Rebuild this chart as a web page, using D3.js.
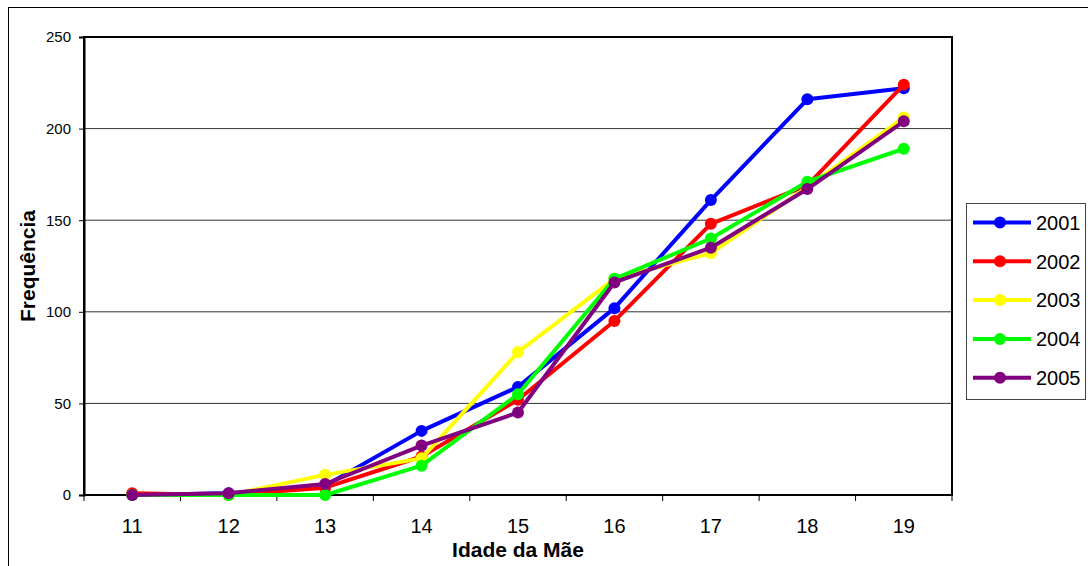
<!DOCTYPE html>
<html>
<head>
<meta charset="utf-8">
<script src="https://cdn.jsdelivr.net/npm/d3@7"></script>
<style>
  body { margin: 0; background: #fff; }
  text { font-family: "Liberation Sans", Arial, sans-serif; }
</style>
</head>
<body>
<div id="chart"></div>
<script>
// Idade da mãe (categorias do eixo x)
var idades = ["11", "12", "13", "14", "15", "16", "17", "18", "19"];

// Frequências por ano
var anos = ["2001", "2002", "2003", "2004", "2005"];
var freq2001 = [0, 1, 5, 35, 59, 102, 161, 216, 222];
var freq2002 = [1, 0, 4, 21, 52, 95, 148, 169, 224];
var freq2003 = [0, 0, 11, 20, 78, 118, 132, 168, 206];
var freq2004 = [0, 0, 0, 16, 55, 118, 140, 171, 189];
var freq2005 = [0, 1, 6, 27, 45, 116, 135, 167, 204];
var cores = ["#0000ff", "#ff0000", "#ffff00", "#00ff00", "#800080"];
var yTicks = [0, 50, 100, 150, 200, 250];

var series = [freq2001, freq2002, freq2003, freq2004, freq2005].map(function(v, i) {
    return { ano: anos[i], cor: cores[i], valores: v };
});

var W = 1088, H = 566;
var margin = { left: 84, top: 37, right: 136, bottom: 71 };
var width = W - margin.left - margin.right,
    height = H - margin.top - margin.bottom;

var svg = d3.select("#chart").append("svg")
    .attr("width", W)
    .attr("height", H);

// moldura externa
svg.append("rect")
    .attr("x", 8.5).attr("y", 7.5)
    .attr("width", W + 10).attr("height", H + 10)
    .attr("fill", "none")
    .attr("stroke", "#000")
    .attr("stroke-width", 1);

var g = svg.append("g")
    .attr("transform", "translate(" + margin.left + "," + margin.top + ")");

var xScale = d3.scaleBand().domain(idades).range([0, width]);
var yScale = d3.scaleLinear().domain([0, 250]).range([height, 0]);

// linhas de grade
g.selectAll("line.grid")
    .data(yTicks.filter(d => d > 0 && d < 250))
    .enter()
    .append("line")
    .attr("class", "grid")
    .attr("x1", 0).attr("x2", width)
    .attr("y1", d => yScale(d)).attr("y2", d => yScale(d))
    .attr("stroke", "#333")
    .attr("stroke-width", 1);

// borda da área do gráfico
g.append("rect")
    .attr("x", 0).attr("y", 0)
    .attr("width", width).attr("height", height)
    .attr("fill", "none")
    .attr("stroke", "#000")
    .attr("stroke-width", 2);

// eixo y
var yAxis = g.append("g")
    .call(d3.axisLeft(yScale).tickValues(yTicks).tickSize(5).tickPadding(8));
yAxis.select(".domain").attr("stroke-width", 2);
yAxis.selectAll("text").style("font-size", "15px").attr("fill", "#000");

// eixo x com marcas entre categorias
var xAxis = g.append("g")
    .attr("transform", "translate(0," + height + ")");
xAxis.append("line")
    .attr("x1", 0).attr("x2", width)
    .attr("stroke", "#000").attr("stroke-width", 2);
xAxis.selectAll("line.tick")
    .data(d3.range(idades.length + 1))
    .enter()
    .append("line")
    .attr("class", "tick")
    .attr("x1", i => i * xScale.step()).attr("x2", i => i * xScale.step())
    .attr("y1", 0).attr("y2", 6)
    .attr("stroke", "#000");
xAxis.selectAll("text")
    .data(idades)
    .enter()
    .append("text")
    .attr("x", d => xScale(d) + xScale.bandwidth() / 2)
    .attr("y", 38)
    .attr("text-anchor", "middle")
    .style("font-size", "20px")
    .text(d => d);

// títulos dos eixos
svg.append("text")
    .attr("x", margin.left + width / 2)
    .attr("y", 557)
    .attr("text-anchor", "middle")
    .style("font-size", "21px")
    .style("font-weight", "bold")
    .text("Idade da Mãe");

svg.append("text")
    .attr("transform", "translate(35," + (margin.top + height / 2) + ") rotate(-90)")
    .attr("text-anchor", "middle")
    .style("font-size", "21px")
    .style("font-weight", "bold")
    .text("Frequência");

// séries
var line = d3.line()
    .x((d, i) => xScale(idades[i]) + xScale.bandwidth() / 2)
    .y(d => yScale(d));

var serie = g.selectAll("g.serie")
    .data(series)
    .enter()
    .append("g")
    .attr("class", "serie");

serie.append("path")
    .attr("d", d => line(d.valores))
    .attr("fill", "none")
    .attr("stroke", d => d.cor)
    .attr("stroke-width", 4)
    .attr("stroke-linejoin", "round");

serie.selectAll("circle")
    .data(d => d.valores.map(v => ({ v: v, cor: d.cor })))
    .enter()
    .append("circle")
    .attr("cx", (d, i) => xScale(idades[i]) + xScale.bandwidth() / 2)
    .attr("cy", d => yScale(d.v))
    .attr("r", 6)
    .attr("fill", d => d.cor);

// legenda
var legend = svg.append("g")
    .attr("transform", "translate(966,203)");
legend.append("rect")
    .attr("x", 0.5).attr("y", 0.5)
    .attr("width", 119).attr("height", 196)
    .attr("fill", "#fff")
    .attr("stroke", "#444")
    .attr("stroke-width", 1);

var item = legend.selectAll("g.item")
    .data(series)
    .enter()
    .append("g")
    .attr("class", "item")
    .attr("transform", (d, i) => "translate(0," + (19.5 + i * 38.8) + ")");
item.append("line")
    .attr("x1", 7).attr("x2", 65)
    .attr("stroke", d => d.cor)
    .attr("stroke-width", 4);
item.append("circle")
    .attr("cx", 34).attr("r", 6)
    .attr("fill", d => d.cor);
item.append("text")
    .attr("x", 70).attr("dy", "0.36em")
    .style("font-size", "20px")
    .text(d => d.ano);
</script>
</body>
</html>
